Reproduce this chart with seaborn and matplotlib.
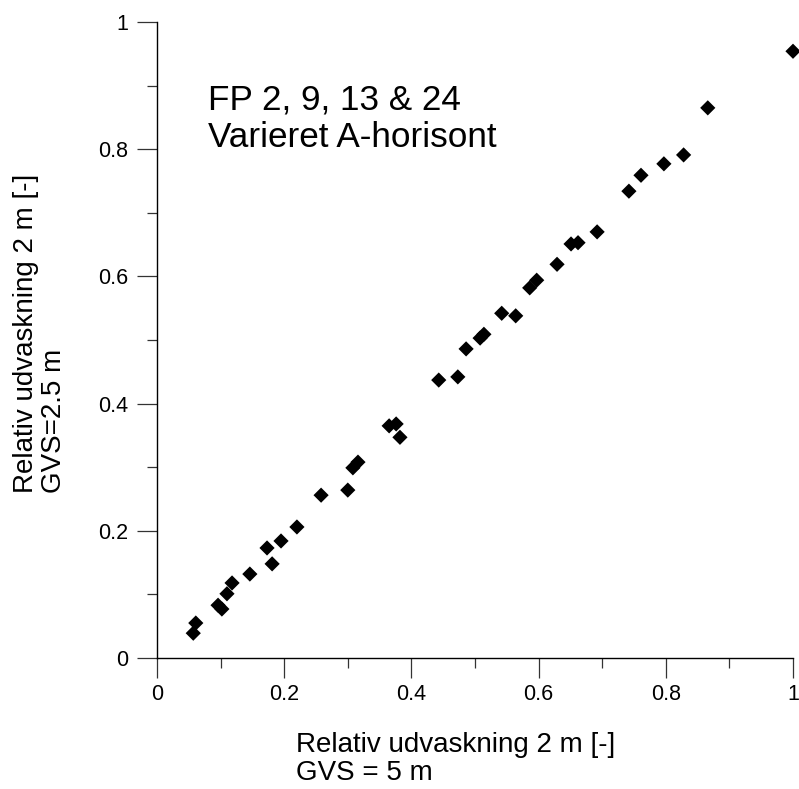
import matplotlib
matplotlib.use("Agg")
import matplotlib.pyplot as plt
import seaborn as sns
import pandas as pd
from matplotlib.ticker import MultipleLocator

x_vals = [0.057, 0.061, 0.096, 0.102, 0.110, 0.118, 0.146, 0.173, 0.181, 0.195,
          0.220, 0.258, 0.300, 0.308, 0.316, 0.365, 0.376, 0.382, 0.443, 0.473,
          0.486, 0.508, 0.514, 0.542, 0.564, 0.586, 0.597, 0.629, 0.651, 0.662,
          0.692, 0.742, 0.761, 0.797, 0.828, 0.866, 1.000]
y_vals = [0.039, 0.055, 0.083, 0.077, 0.101, 0.118, 0.132, 0.173, 0.148, 0.184,
          0.206, 0.256, 0.264, 0.299, 0.308, 0.365, 0.368, 0.347, 0.437, 0.442,
          0.486, 0.503, 0.509, 0.542, 0.538, 0.582, 0.594, 0.619, 0.651, 0.653,
          0.670, 0.734, 0.759, 0.777, 0.791, 0.865, 0.954]
tick_vals = [0, 0.2, 0.4, 0.6, 0.8, 1]
tick_labels = ["0", "0.2", "0.4", "0.6", "0.8", "1"]

df = pd.DataFrame({"x": x_vals, "y": y_vals})

sns.set_style("ticks")
plt.rcParams["font.family"] = ["Liberation Sans", "DejaVu Sans"]
plt.rcParams["text.color"] = "black"

fig = plt.figure(figsize=(7.99, 7.89), dpi=100)
ax = fig.add_axes([157/799, 1 - 658/789, 636/799, 636/789])

sns.scatterplot(data=df, x="x", y="y", marker="D", s=60, color="black",
                edgecolor="none", linewidth=0, ax=ax, zorder=3, clip_on=False)

ax.set_xlim(0, 1)
ax.set_ylim(0, 1)
ax.set_xticks(tick_vals)
ax.set_xticklabels(tick_labels)
ax.set_yticks(tick_vals)
ax.set_yticklabels(tick_labels)
ax.xaxis.set_minor_locator(MultipleLocator(0.1))
ax.yaxis.set_minor_locator(MultipleLocator(0.1))
ax.tick_params(which="major", length=14.5, width=0.9, color="#333333",
               labelsize=15.5, labelcolor="black", direction="out")
ax.tick_params(axis="x", which="major", pad=4)
ax.tick_params(axis="y", which="major", pad=6)
ax.tick_params(which="minor", length=7.2, width=0.9, color="#333333", direction="out")

sns.despine(ax=ax)
for s in ["left", "bottom"]:
    ax.spines[s].set_color("black")
    ax.spines[s].set_linewidth(1.0)

ax.set_xlabel("")
ax.set_ylabel("")
ax.text(0.470, -0.159, "Relativ udvaskning 2 m [-]\nGVS = 5 m", transform=ax.transAxes,
        ha="center", va="center", multialignment="left", fontsize=20, linespacing=1.1,
        color="black")
ax.text(-0.184, 0.510, "Relativ udvaskning 2 m [-]\nGVS=2.5 m", transform=ax.transAxes,
        ha="center", va="center", multialignment="left", rotation=90, fontsize=20,
        linespacing=1.1, color="black")

ax.text(0.080, 0.862, "FP 2, 9, 13 & 24", transform=ax.transAxes, ha="left",
        va="baseline", fontsize=25.3, color="black")
ax.text(0.080, 0.803, "Varieret A-horisont", transform=ax.transAxes, ha="left",
        va="baseline", fontsize=25.3, color="black")

fig.savefig("out.png", dpi=100)
